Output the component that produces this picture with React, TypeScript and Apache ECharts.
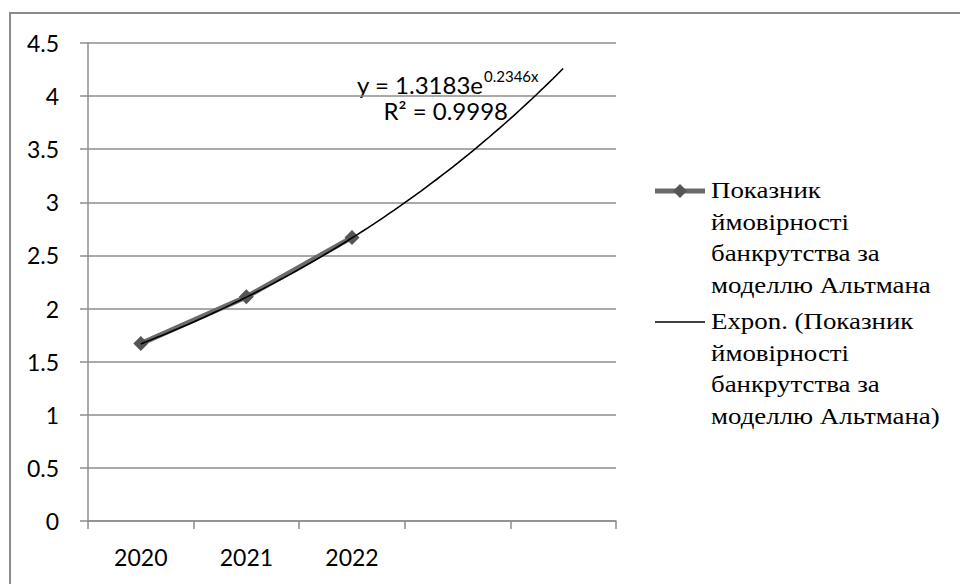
import React, { useEffect, useRef } from "react";
import * as echarts from "echarts";

// Years on the category axis; the last two slots hold the forecast part of the trend.
const categories = ["2020", "2021", "2022", "", ""];
// Altman bankruptcy probability index.
const altmanValues = [1.67, 2.11, 2.67];
// Exponential trend y = a * e^(b * x), x = period number (1-based).
const trendA = 1.3183;
const trendB = 0.2346;
const trendR2 = "0.9998";
const trendFrom = 1;
const trendTo = 5;
const trendStep = 0.05;

const seriesName = "Показник ймовірності банкрутства за моделлю Альтмана";
const legendLines1 = ["Показник", "ймовірності", "банкрутства за", "моделлю Альтмана"];
const legendLines2 = ["Expon. (Показник", "ймовірності", "банкрутства за", "моделлю Альтмана)"];

const SANS = "Lato";
const SERIF = "Liberation Serif";
const GRID_GRAY = "#8c8c8c";

function buildTrend(): number[][] {
  const pts: number[][] = [];
  const n = Math.round((trendTo - trendFrom) / trendStep);
  for (let i = 0; i <= n; i++) {
    const x = trendFrom + i * trendStep;
    pts.push([x, trendA * Math.exp(trendB * x)]);
  }
  return pts;
}

export default function App() {
  const ref = useRef<HTMLDivElement>(null);

  useEffect(() => {
    document.body.style.margin = "0";
    if (!ref.current) return;
    const chart = echarts.init(ref.current, null, { renderer: "svg" });

    // Legend captions, one text element per wrapped line (top-anchored).
    const legendText = (lines: string[], x: number, yCenter: number) =>
      lines.map((t, i) => ({
        type: "text",
        x,
        y: yCenter + i * 31.7 - 13,
        scaleX: 1.12,
        style: {
          text: t,
          fill: "#000",
          fontFamily: SERIF,
          fontSize: 24,
        },
      }));

    chart.setOption({
      animation: false,
      backgroundColor: "#fff",
      grid: { left: 88, right: 344, top: 43, bottom: 63, containLabel: false },
      xAxis: [
        {
          type: "category",
          data: categories,
          boundaryGap: true,
          axisLine: { show: true, lineStyle: { color: GRID_GRAY, width: 1.5 } },
          axisTick: { show: true, length: 8, inside: false, lineStyle: { color: GRID_GRAY, width: 1.5 } },
          axisLabel: { color: "#000", fontFamily: SANS, fontSize: 23, margin: 24 },
          splitLine: { show: false },
        },
        {
          type: "value",
          min: 0.5,
          max: 5.5,
          show: false,
        },
      ],
      yAxis: {
        type: "value",
        min: 0,
        max: 4.5,
        interval: 0.5,
        axisLine: { show: true, lineStyle: { color: GRID_GRAY, width: 1.5 } },
        axisTick: { show: true, length: 8, lineStyle: { color: GRID_GRAY, width: 1.5 } },
        axisLabel: { color: "#000", fontFamily: SANS, fontSize: 23, margin: 29 },
        splitLine: { show: true, lineStyle: { color: GRID_GRAY, width: 1.5 } },
      },
      series: [
        {
          name: seriesName,
          type: "line",
          data: altmanValues,
          symbol: "diamond",
          symbolSize: 15,
          lineStyle: { color: "#6b6b6b", width: 5 },
          itemStyle: { color: "#555555" },
          z: 2,
        },
        {
          name: "Expon. (" + seriesName + ")",
          type: "line",
          xAxisIndex: 1,
          data: buildTrend(),
          showSymbol: false,
          symbol: "none",
          lineStyle: { color: "#000", width: 1.6 },
          z: 3,
        },
      ],
      graphic: [
        // chart frame (top and left edges)
        {
          type: "polyline",
          shape: { points: [[10, 590], [10, 13], [970, 13]] },
          style: { stroke: "#8c8c8c", lineWidth: 2, fill: "none" },
        },
        // legend: series entry
        { type: "line", shape: { x1: 655, y1: 191, x2: 705, y2: 191 }, style: { stroke: "#6b6b6b", lineWidth: 5 } },
        {
          type: "polygon",
          shape: { points: [[680, 184], [687, 191], [680, 198], [673, 191]] },
          style: { fill: "#555555" },
        },
        ...legendText(legendLines1, 711, 191),
        // legend: trend entry
        { type: "line", shape: { x1: 655, y1: 322, x2: 705, y2: 322 }, style: { stroke: "#000", lineWidth: 1.6 } },
        ...legendText(legendLines2, 711, 322),
        // trend equation: base part, exponent, and R²
        {
          type: "text",
          x: 483,
          y: 84,
          style: {
            text: `y = ${trendA}e`,
            fontFamily: SANS,
            fontSize: 24,
            fill: "#000",
            align: "right",
            verticalAlign: "middle",
          },
        },
        {
          type: "text",
          x: 484,
          y: 76,
          style: {
            text: `${trendB}x`,
            fontFamily: SANS,
            fontSize: 15,
            fill: "#000",
            align: "left",
            verticalAlign: "middle",
          },
        },
        {
          type: "text",
          x: 508,
          y: 98,
          style: {
            text: `R² = ${trendR2}`,
            fontFamily: SANS,
            fontSize: 24,
            fill: "#000",
            align: "right",
          },
        },
      ],
    });

    return () => chart.dispose();
  }, []);

  return <div ref={ref} style={{ position: "absolute", left: 0, top: 0, width: 960, height: 584 }} />;
}
